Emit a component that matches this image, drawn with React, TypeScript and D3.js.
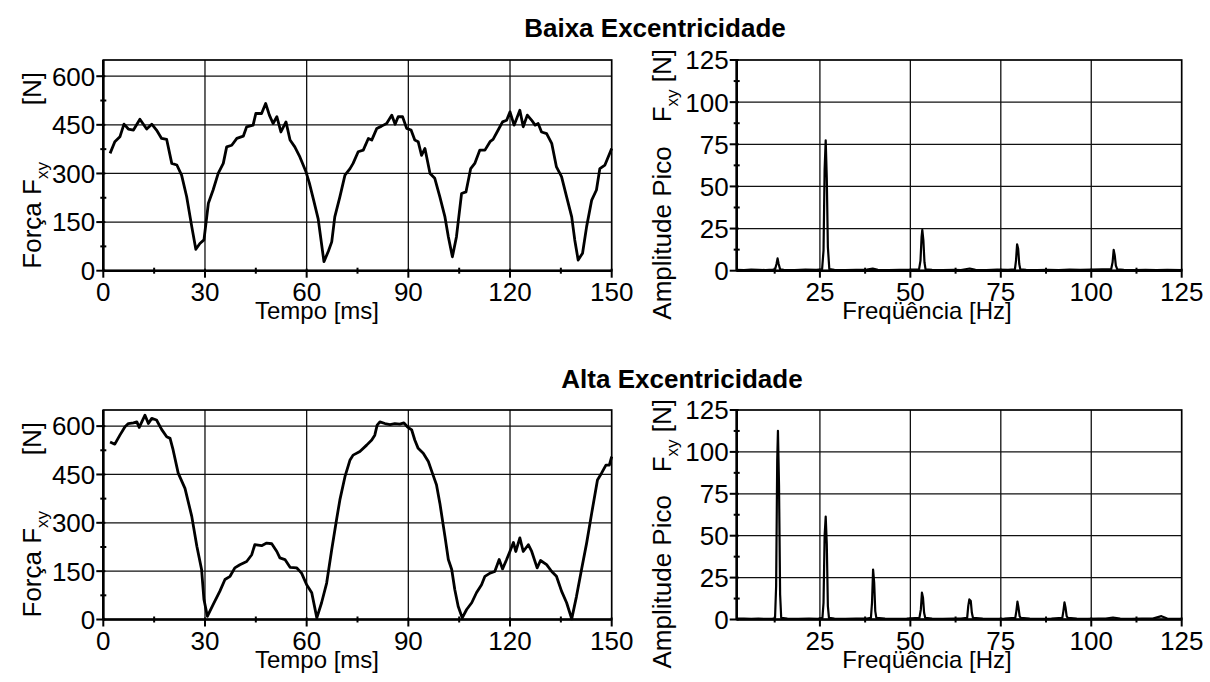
import React from "react";
import * as d3 from "d3";

const FONT = "'Liberation Sans', Arial, Helvetica, sans-serif";

// ---------- DATA ----------
const panelTitles = ["Baixa Excentricidade", "Alta Excentricidade"];

const timeTicks = [0, 30, 60, 90, 120, 150];
const timeMinor = [15, 45, 75, 105, 135];
const forceTicks = [0, 150, 300, 450, 600];
const forceMinor = [75, 225, 375, 525];
const freqTicks = [25, 50, 75, 100, 125];
const freqMinor = [12.5, 37.5, 62.5, 87.5, 112.5];
const ampTicks = [0, 25, 50, 75, 100, 125];
const ampMinor = [12.5, 37.5, 62.5, 87.5, 112.5];

// Baixa excentricidade: force vs time [ms, N]
const lowForce: [number, number][] = [
  [2.0, 362], [3.4, 398], [4.9, 413], [6.1, 452], [7.4, 437], [8.9, 434], [10.8, 467],
  [12.8, 437], [14.3, 452], [15.7, 434], [17.2, 408], [18.7, 405], [20.2, 331], [21.7, 326],
  [23.1, 295], [24.6, 228], [26.1, 136], [27.3, 66], [28.5, 84], [29.7, 95], [31.0, 208],
  [32.4, 249], [33.9, 300], [35.4, 331], [36.4, 382], [37.9, 387], [39.4, 408], [41.3, 415],
  [42.3, 444], [44.2, 449], [45.0, 485], [46.7, 485], [47.9, 516], [49.0, 480], [50.1, 454],
  [51.2, 475], [52.4, 428], [53.9, 459], [55.1, 403], [56.5, 382], [58.0, 351], [59.8, 305],
  [60.8, 270], [62.0, 220], [63.4, 160], [65.1, 28], [66.4, 60], [67.4, 89], [68.3, 166],
  [69.8, 228], [71.3, 295], [72.8, 315], [73.7, 331], [75.2, 367], [76.7, 372], [78.2, 408],
  [79.2, 403], [80.7, 439], [82.1, 446], [83.6, 454], [85.1, 480], [86.1, 452], [87.0, 475],
  [88.3, 475], [89.5, 439], [90.8, 434], [91.9, 403], [92.9, 398], [93.9, 356], [94.9, 377],
  [96.4, 300], [97.8, 285], [99.3, 228], [100.8, 166], [101.8, 105], [103.0, 43], [104.2, 105],
  [105.7, 238], [107.0, 243], [108.4, 315], [109.6, 331], [111.1, 372], [112.6, 372], [114.1, 398],
  [115.0, 405], [116.5, 434], [117.8, 459], [119.0, 464], [120.0, 490], [121.2, 449], [122.0, 470],
  [122.9, 495], [123.9, 444], [125.1, 480], [126.4, 464], [127.4, 449], [128.3, 454], [129.3, 428],
  [130.8, 423], [132.3, 393], [133.7, 320], [135.2, 290], [136.7, 228], [138.2, 166], [139.1, 95],
  [140.1, 33], [141.4, 54], [142.6, 136], [144.1, 218], [145.5, 249], [146.5, 315], [148.0, 326],
  [150.0, 377],
];

// Alta excentricidade: force vs time [ms, N]
const highForce: [number, number][] = [
  [2.0, 551], [3.4, 544], [4.9, 572], [6.4, 598], [7.4, 608], [8.9, 610], [9.9, 613], [10.6, 596],
  [12.3, 634], [13.3, 608], [14.3, 624], [15.7, 619], [17.2, 590], [18.7, 567], [19.7, 562],
  [20.6, 526], [22.1, 454], [24.1, 407], [26.1, 320], [27.6, 227], [29.0, 155], [29.7, 62],
  [30.7, 10], [32.4, 46], [34.4, 88], [35.9, 124], [37.4, 134], [38.8, 160], [40.3, 170],
  [42.3, 180], [43.8, 201], [44.7, 232], [46.7, 229], [48.2, 237], [49.7, 235], [51.2, 211],
  [52.1, 191], [53.6, 186], [55.1, 162], [57.1, 160], [58.5, 144], [60.0, 108], [61.5, 83],
  [63.0, 5], [64.4, 52], [65.9, 113], [67.4, 217], [68.8, 309], [69.8, 371], [71.3, 443],
  [72.8, 495], [73.7, 510], [75.7, 521], [77.7, 541], [79.2, 557], [80.1, 572], [80.8, 603],
  [81.6, 613], [83.1, 608], [84.6, 605], [86.0, 608], [87.5, 606], [88.7, 610], [89.7, 598],
  [91.0, 588], [91.9, 557], [92.9, 531], [94.4, 516], [95.9, 490], [97.3, 448], [98.3, 418],
  [99.3, 361], [100.8, 258], [101.8, 186], [102.8, 155], [103.7, 93], [104.7, 41], [105.9, 5],
  [107.2, 31], [108.7, 52], [110.1, 83], [111.6, 108], [112.6, 134], [114.1, 144], [115.5, 149],
  [116.8, 186], [117.8, 157], [119.0, 186], [120.2, 217], [121.0, 239], [121.7, 211], [122.9, 253],
  [123.9, 211], [125.4, 232], [126.4, 211], [128.0, 160], [129.0, 183], [130.8, 170], [132.3, 149],
  [133.7, 134], [135.2, 88], [136.7, 52], [138.2, 2], [139.6, 71], [141.1, 155], [142.6, 237],
  [144.1, 330], [145.8, 433], [147.0, 454], [148.3, 479], [149.3, 479], [150.0, 505],
];

// Spectra: amplitude vs frequency [Hz, N]
const lowSpectrum: [number, number][] = [
  [2, 0.5], [4, 0.4], [6, 0.6], [8, 0.5], [10, 0.4], [12, 0.6], [12.6, 0.8], [13.0, 4], [13.3, 7.3],
  [13.6, 4], [14.0, 0.8], [15, 0.5], [18, 0.4], [21, 0.6], [24, 0.5], [25.6, 0.8], [26.0, 12],
  [26.3, 60], [26.6, 77.3], [26.9, 55], [27.2, 14], [27.6, 0.9], [29, 0.5], [32, 0.4], [35, 0.5],
  [38, 0.6], [39.6, 1.2], [41, 0.5], [44, 0.4], [47, 0.5], [50, 0.6], [52.4, 0.8], [52.8, 6],
  [53.1, 20], [53.3, 24.2], [53.6, 18], [53.9, 5], [54.2, 0.8], [56, 0.5], [59, 0.4], [62, 0.5],
  [64, 0.4], [66.4, 1.3], [68, 0.5], [71, 0.4], [74, 0.6], [77, 0.5], [78.9, 0.8], [79.2, 6],
  [79.5, 15.7], [79.8, 13], [80.1, 4], [80.4, 0.8], [82, 0.5], [85, 0.4], [88, 0.5], [91, 0.4],
  [94, 0.6], [97, 0.5], [100, 0.7], [103, 0.8], [105.5, 0.9], [105.9, 5], [106.2, 12.3],
  [106.5, 9], [106.8, 3], [107.2, 0.8], [109, 0.5], [112, 0.4], [115, 0.5], [118, 0.4], [121, 0.5],
  [125, 0.4],
];

const highSpectrum: [number, number][] = [
  [2, 0.6], [4, 0.5], [6, 0.4], [8, 0.5], [10, 0.4], [12, 0.6], [12.6, 1], [12.9, 20], [13.2, 95],
  [13.4, 112.6], [13.7, 80], [14.0, 15], [14.3, 1], [16, 0.5], [19, 0.4], [22, 0.5], [24.5, 0.4],
  [25.7, 1], [26.0, 10], [26.3, 50], [26.6, 61.4], [26.9, 45], [27.2, 8], [27.5, 1], [29, 0.5],
  [32, 0.4], [35, 0.5], [38, 0.6], [39.1, 1], [39.4, 10], [39.7, 29.8], [40.0, 22], [40.3, 5],
  [40.6, 1], [43, 0.5], [46, 0.4], [49, 0.5], [52.5, 1], [52.9, 6], [53.2, 16], [53.5, 13],
  [53.8, 4], [54.1, 1], [56, 0.5], [59, 0.4], [62, 0.5], [64, 0.6], [65.7, 1], [66.0, 8],
  [66.3, 12], [66.7, 11], [67.0, 4], [67.3, 1], [70, 0.5], [73, 0.4], [76, 0.5], [79.0, 1],
  [79.3, 5], [79.6, 10.7], [79.9, 7], [80.2, 2], [80.5, 1], [83, 0.5], [86, 0.4], [89, 0.5],
  [92.0, 1], [92.3, 5], [92.6, 10.2], [92.9, 7], [93.2, 2], [93.5, 1], [96, 0.5], [99, 0.4],
  [102, 0.5], [104, 0.6], [106, 1.2], [108, 0.5], [111, 0.4], [114, 0.5], [117, 0.5], [119.4, 2],
  [121, 0.6], [123, 0.4], [125, 0.4],
];

// ---------- COMPONENTS ----------
type PanelProps = {
  left: number; right: number; top: number; bottom: number;
  xDomain: [number, number]; yDomain: [number, number];
  xTicks: number[]; xMinor: number[]; yTicks: number[]; yMinor: number[];
  data: [number, number][];
  lineWidth: number;
  xTitle: string; xTitleX: number;
  yTitle: "force" | "amp"; yTitleX: number;
};

function Panel(p: PanelProps) {
  const x = d3.scaleLinear().domain(p.xDomain).range([p.left, p.right]);
  const y = d3.scaleLinear().domain(p.yDomain).range([p.bottom, p.top]);
  const line = d3.line<[number, number]>().x((d) => x(d[0])).y((d) => y(d[1]));
  const sub = { dy: 7, fontSize: 17 };
  return (
    <g>
      {/* grid */}
      {p.xTicks.filter((t) => t > p.xDomain[0] && t < p.xDomain[1]).map((t) => (
        <line key={"gx" + t} x1={x(t)} x2={x(t)} y1={p.top} y2={p.bottom} stroke="#111" strokeWidth={1.3} />
      ))}
      {p.yTicks.filter((t) => t > p.yDomain[0] && t < p.yDomain[1]).map((t) => (
        <line key={"gy" + t} x1={p.left} x2={p.right} y1={y(t)} y2={y(t)} stroke="#111" strokeWidth={1.3} />
      ))}
      {/* frame */}
      <rect x={p.left} y={p.top} width={p.right - p.left} height={p.bottom - p.top} fill="none" stroke="#000" strokeWidth={1.7} />
      <line x1={p.left} x2={p.left} y1={p.top} y2={p.bottom} stroke="#000" strokeWidth={2.6} />
      <line x1={p.left} x2={p.right} y1={p.bottom} y2={p.bottom} stroke="#000" strokeWidth={2.6} />
      {/* ticks */}
      {p.yTicks.map((t) => (
        <line key={"ty" + t} x1={p.left - 7} x2={p.left + 2} y1={y(t)} y2={y(t)} stroke="#000" strokeWidth={2} />
      ))}
      {p.yMinor.map((t) => (
        <line key={"my" + t} x1={p.left - 3} x2={p.left + 3} y1={y(t)} y2={y(t)} stroke="#000" strokeWidth={2} />
      ))}
      {p.xTicks.map((t) => (
        <line key={"tx" + t} x1={x(t)} x2={x(t)} y1={p.bottom - 2} y2={p.bottom + 7} stroke="#000" strokeWidth={2} />
      ))}
      {p.xMinor.map((t) => (
        <line key={"mx" + t} x1={x(t)} x2={x(t)} y1={p.bottom - 3} y2={p.bottom + 3} stroke="#000" strokeWidth={2} />
      ))}
      {/* tick labels */}
      {p.yTicks.map((t) => (
        <text key={"ly" + t} x={p.left - 8} y={y(t)} dy="0.36em" textAnchor="end" fontSize={26} fontFamily={FONT}>{t}</text>
      ))}
      {p.xTicks.map((t) => (
        <text key={"lx" + t} x={x(t)} y={p.bottom + 30} textAnchor="middle" fontSize={26} fontFamily={FONT}>{t}</text>
      ))}
      {/* data */}
      <path d={line(p.data) || ""} fill="none" stroke="#000" strokeWidth={p.lineWidth} strokeLinejoin="round" />
      {/* axis titles */}
      <text x={p.xTitleX} y={p.bottom + 48} textAnchor="middle" fontSize={24} fontFamily={FONT}>{p.xTitle}</text>
      {p.yTitle === "force" ? (
        <g fontSize={26} fontFamily={FONT}>
          <text transform={`translate(${p.yTitleX},${p.bottom - 2}) rotate(-90)`} textAnchor="start">
            {"Força F"}<tspan dy={sub.dy} fontSize={sub.fontSize}>xy</tspan>
          </text>
          <text transform={`translate(${p.yTitleX},${p.top + 12}) rotate(-90)`} textAnchor="end">[N]</text>
        </g>
      ) : (
        <g fontSize={26} fontFamily={FONT}>
          <text transform={`translate(${p.yTitleX},${p.bottom + 49}) rotate(-90)`} textAnchor="start">Amplitude Pico</text>
          <text transform={`translate(${p.yTitleX},${p.top - 11}) rotate(-90)`} textAnchor="end" style={{ whiteSpace: "pre" }}>
            {"F"}<tspan dy={sub.dy} fontSize={sub.fontSize}>xy</tspan><tspan dy={-sub.dy}>{" [N]"}</tspan>
          </text>
        </g>
      )}
    </g>
  );
}

export default function App() {
  const rows = [
    { top: 60, bottom: 270.7, title: panelTitles[0], titleX: 655, titleY: 37, force: lowForce, spec: lowSpectrum },
    { top: 410, bottom: 619.5, title: panelTitles[1], titleX: 682, titleY: 388, force: highForce, spec: highSpectrum },
  ];
  return (
    <svg width={1210} height={682} style={{ position: "absolute", left: 0, top: 0, background: "#fff" }}>
      <rect x={0} y={0} width={1210} height={682} fill="#fff" />
      {rows.map((r, i) => (
        <g key={i}>
          <text x={r.titleX} y={r.titleY} textAnchor="middle" fontSize={26} fontWeight="bold" fontFamily={FONT}>{r.title}</text>
          <Panel
            left={103.3} right={611.7} top={r.top} bottom={r.bottom}
            xDomain={[0, 150]} yDomain={[0, 650]}
            xTicks={timeTicks} xMinor={timeMinor} yTicks={forceTicks} yMinor={forceMinor}
            data={r.force} lineWidth={2.8}
            xTitle="Tempo [ms]" xTitleX={317}
            yTitle="force" yTitleX={41}
          />
          <Panel
            left={736.7} right={1181.7} top={r.top} bottom={r.bottom}
            xDomain={[2, 125]} yDomain={[0, 125]}
            xTicks={freqTicks} xMinor={freqMinor} yTicks={ampTicks} yMinor={ampMinor}
            data={r.spec} lineWidth={2.2}
            xTitle="Freqüência [Hz]" xTitleX={927}
            yTitle="amp" yTitleX={671}
          />
        </g>
      ))}
    </svg>
  );
}
